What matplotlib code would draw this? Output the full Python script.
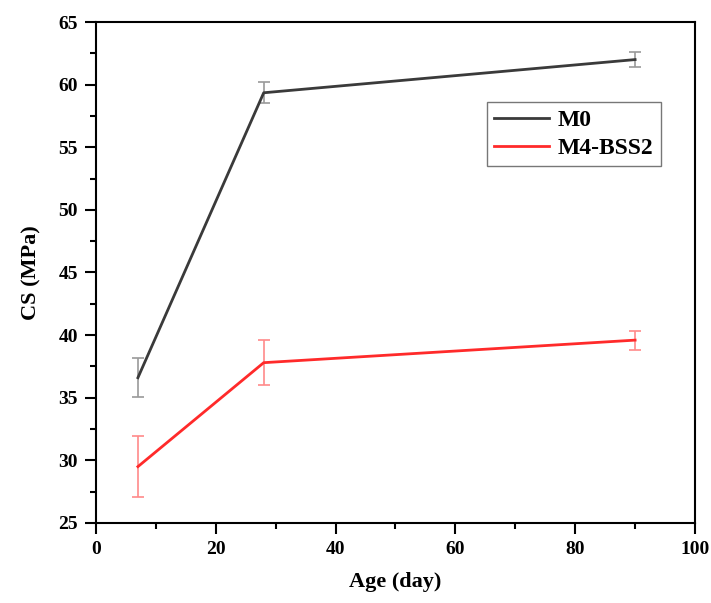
import matplotlib.pyplot as plt
from matplotlib.ticker import MultipleLocator

# age in days
age = [7, 28, 90]

m0 = [36.6, 59.35, 62.0]
m0_err = [1.55, 0.85, 0.6]

m4 = [29.5, 37.8, 39.6]
m4_err = [2.45, 1.8, 0.75]

plt.rcParams['font.family'] = ['Liberation Serif', 'DejaVu Serif']
plt.rcParams['font.weight'] = 'bold'

fig = plt.figure(figsize=(7.11, 6.03), dpi=100)
ax = fig.add_axes([0.135, 0.1327, 0.8425, 0.8308])

ax.plot(age, m0, color='#3a3a3a', lw=2, label='M0', zorder=3)
ax.errorbar(age, m0, yerr=m0_err, fmt='none', ecolor='#9a9a9a', elinewidth=1.2, capsize=4, capthick=1.2, zorder=2)
ax.plot(age, m4, color='#ff2a2a', lw=2, label='M4-BSS2', zorder=3)
ax.errorbar(age, m4, yerr=m4_err, fmt='none', ecolor='#ff8a8a', elinewidth=1.2, capsize=4, capthick=1.2, zorder=2)

ax.set_xlim(0, 100)
ax.set_ylim(25, 65)
ax.xaxis.set_major_locator(MultipleLocator(20))
ax.xaxis.set_minor_locator(MultipleLocator(10))
ax.yaxis.set_major_locator(MultipleLocator(5))
ax.yaxis.set_minor_locator(MultipleLocator(2.5))

ax.tick_params(which='major', direction='out', length=8, width=1.5, labelsize=14, pad=5)
ax.tick_params(which='minor', direction='out', length=4, width=1.5)
for s in ax.spines.values():
    s.set_linewidth(1.5)

ax.set_xlabel('Age (day)', fontsize=16, fontweight='bold', labelpad=10)
ax.set_ylabel('CS (MPa)', fontsize=16, fontweight='bold', labelpad=12)

leg = ax.legend(loc='upper left', bbox_to_anchor=(0.653, 0.84), fontsize=17,
                frameon=True, fancybox=False, edgecolor='#555555', borderaxespad=0,
                handlelength=2.3, handletextpad=0.4, borderpad=0.3, labelspacing=0.3)
leg.get_frame().set_linewidth(1.0)

fig.savefig('out.png', dpi=100)
